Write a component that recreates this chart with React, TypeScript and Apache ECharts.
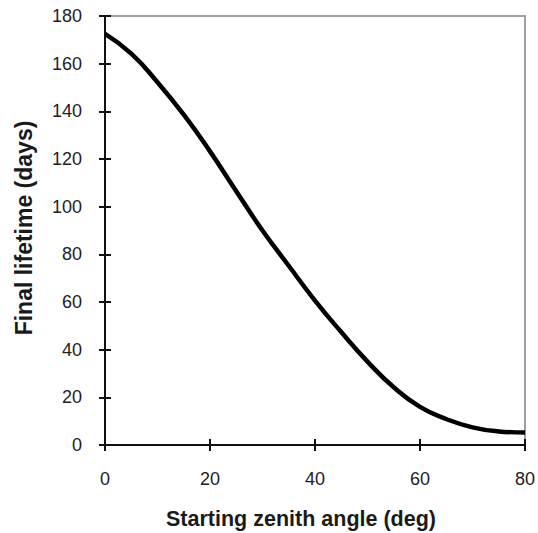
import React, { useEffect, useRef } from "react";
import * as echarts from "echarts";

const angles = [0, 5, 10, 15, 20, 25, 30, 35, 40, 45, 50, 55, 60, 65, 70, 75, 80];
const lifetimes = [172.5, 164.2, 152.2, 138.6, 123.2, 106.5, 90, 75.2, 60.6, 47.4, 35, 24.2, 16, 10.9, 7.4, 5.7, 5.2];
const xTicks = [0, 20, 40, 60, 80];
const yTicks = [0, 20, 40, 60, 80, 100, 120, 140, 160, 180];
const xTitle = "Starting zenith angle (deg)";
const yTitle = "Final lifetime (days)";

const FONT = "'Liberation Sans', Arial, sans-serif";

export default function App() {
  const ref = useRef<HTMLDivElement>(null);
  useEffect(() => {
    if (!ref.current) return;
    const chart = echarts.init(ref.current, undefined, { renderer: "svg" });
    const xBase = {
      type: "value",
      min: xTicks[0],
      max: xTicks[xTicks.length - 1],
      interval: 20,
      position: "bottom",
      splitLine: { show: false },
    };
    const yBase = {
      type: "value",
      min: yTicks[0],
      max: yTicks[yTicks.length - 1],
      interval: 20,
      position: "left",
      splitLine: { show: false },
    };
    chart.setOption({
      animation: false,
      backgroundColor: "#ffffff",
      grid: {
        left: 105,
        right: 12,
        top: 16,
        bottom: 88,
        show: true,
        borderColor: "#a0a0a0",
        borderWidth: 2,
        backgroundColor: "transparent",
      },
      graphic: [
        {
          type: "text",
          x: 301,
          y: 519,
          style: {
            text: xTitle,
            fontFamily: FONT,
            fontWeight: "bold",
            fontSize: 21.5,
            fill: "#1a1a1a",
            align: "center",
            verticalAlign: "middle",
          },
        },
        {
          type: "text",
          x: 24,
          y: 228,
          rotation: Math.PI / 2,
          style: {
            text: yTitle,
            fontFamily: FONT,
            fontWeight: "bold",
            fontSize: 23,
            fill: "#1a1a1a",
            align: "center",
            verticalAlign: "middle",
          },
        },
      ],
      xAxis: [
        {
          ...xBase,
          axisLine: { show: true, lineStyle: { color: "#111", width: 2 } },
          axisTick: { show: true, inside: true, length: 6, lineStyle: { color: "#111", width: 2 } },
          axisLabel: { show: true, margin: 25, fontFamily: FONT, fontSize: 18, color: "#222" },
        },
        {
          ...xBase,
          axisLine: { show: false },
          axisTick: { show: true, inside: false, length: 6, lineStyle: { color: "#111", width: 2 } },
          axisLabel: { show: false },
        },
      ],
      yAxis: [
        {
          ...yBase,
          axisLine: { show: true, lineStyle: { color: "#111", width: 2 } },
          axisTick: { show: true, inside: true, length: 6, lineStyle: { color: "#111", width: 2 } },
          axisLabel: { show: true, margin: 23, fontFamily: FONT, fontSize: 18, color: "#222" },
        },
        {
          ...yBase,
          axisLine: { show: false },
          axisTick: { show: true, inside: false, length: 6, lineStyle: { color: "#111", width: 2 } },
          axisLabel: { show: false },
        },
      ],
      series: [
        {
          type: "line",
          xAxisIndex: 0,
          yAxisIndex: 0,
          data: angles.map((a, i) => [a, lifetimes[i]]),
          smooth: 0.5,
          showSymbol: false,
          symbol: "none",
          lineStyle: { color: "#000", width: 4.5 },
        },
      ],
    });
    return () => chart.dispose();
  }, []);
  return <div ref={ref} style={{ width: 538, height: 533, position: "absolute", left: 0, top: 0 }} />;
}
